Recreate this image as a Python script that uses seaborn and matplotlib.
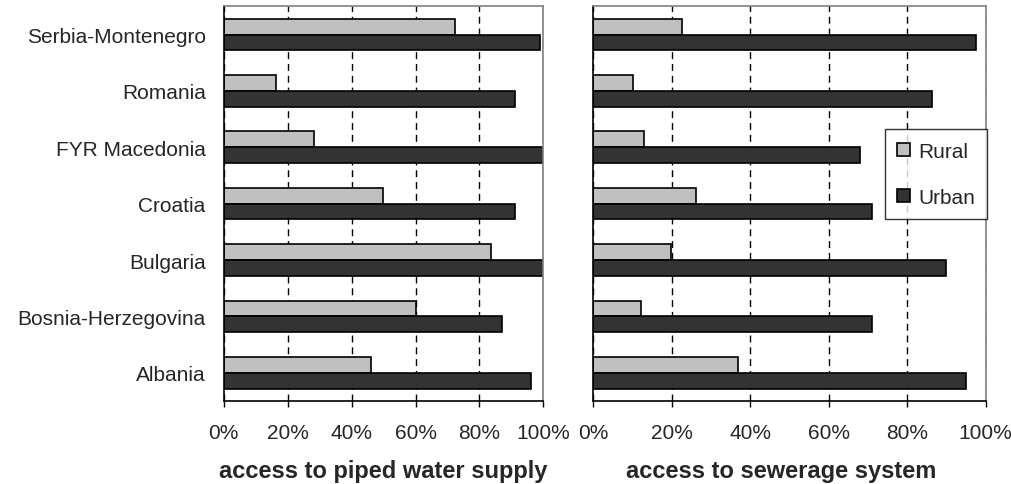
import matplotlib
matplotlib.use("Agg")
import matplotlib.pyplot as plt
from matplotlib.ticker import PercentFormatter
import seaborn as sns
import pandas as pd

# data (percent)
countries = ["Serbia-Montenegro", "Romania", "FYR Macedonia", "Croatia",
             "Bulgaria", "Bosnia-Herzegovina", "Albania"]
water_rural = [72.5, 16.3, 28.2, 49.9, 83.7, 60.0, 46.2]
water_urban = [98.8, 91.2, 100.0, 91.2, 100.0, 87.0, 96.2]
sewer_rural = [22.5, 10.2, 12.8, 26.1, 19.9, 12.2, 36.8]
sewer_urban = [97.6, 86.3, 67.9, 71.0, 90.0, 71.1, 95.1]
areas = ["Rural", "Urban"]
xticks = [0, 20, 40, 60, 80, 100]

sns.set_theme(style="white")
plt.rcParams["font.family"] = ["Liberation Sans", "DejaVu Sans"]

palette = {"Rural": "#C0C0C0", "Urban": "#333333"}


def long_form(rural, urban):
    return pd.DataFrame({
        "country": countries * 2,
        "area": ["Rural"] * len(countries) + ["Urban"] * len(countries),
        "value": rural + urban,
    })


fig = plt.figure(figsize=(10.12, 4.85), dpi=100)
ax1 = fig.add_axes([0.2211, 0.1711, 0.3158, 0.8138])
ax2 = fig.add_axes([0.5863, 0.1711, 0.3877, 0.8138])

panels = [
    (ax1, long_form(water_rural, water_urban), "access to piped water supply"),
    (ax2, long_form(sewer_rural, sewer_urban), "access to sewerage system"),
]

for ax, df, label in panels:
    sns.barplot(data=df, y="country", x="value", hue="area", hue_order=areas,
                order=countries, palette=palette, edgecolor="black",
                linewidth=1.2, width=0.56, gap=0, ax=ax, legend=(ax is ax2))
    ax.set_xlim(0, 100)
    ax.set_ylim(6.5, -0.5)
    ax.set_xticks(xticks)
    ax.xaxis.set_major_formatter(PercentFormatter(decimals=0))
    ax.set_axisbelow(True)
    ax.grid(axis="x", color="black", linestyle=(0, (5, 3.5)), linewidth=1)
    ax.grid(axis="y", visible=False)
    ax.tick_params(axis="x", direction="out", length=4, width=1, color="black",
                   labelsize=15, pad=12, bottom=True)
    ax.tick_params(axis="y", length=0, labelsize=15, pad=13)
    ax.set_ylabel("")
    ax.set_xlabel(label, fontsize=17, fontweight="bold")
    ax.xaxis.label.set_va("center")
    for side in ["left", "bottom"]:
        ax.spines[side].set_color("black")
        ax.spines[side].set_linewidth(1.2)
    for side in ["top", "right"]:
        ax.spines[side].set_color("#808080")
        ax.spines[side].set_linewidth(1.2)

ax2.set_yticklabels([])
ax1.xaxis.set_label_coords(0.5, -0.175)
ax2.xaxis.set_label_coords(0.48, -0.175)

leg = ax2.legend(loc="upper right", bbox_to_anchor=(1.004, 0.689),
                 borderaxespad=0, fontsize=15, frameon=True, fancybox=False,
                 handlelength=0.6, handleheight=0.6, handletextpad=0.4,
                 labelspacing=1.3, borderpad=0.6, title=None)
leg.get_frame().set_edgecolor("black")
leg.get_frame().set_linewidth(1)

fig.savefig("out.png", dpi=100)
